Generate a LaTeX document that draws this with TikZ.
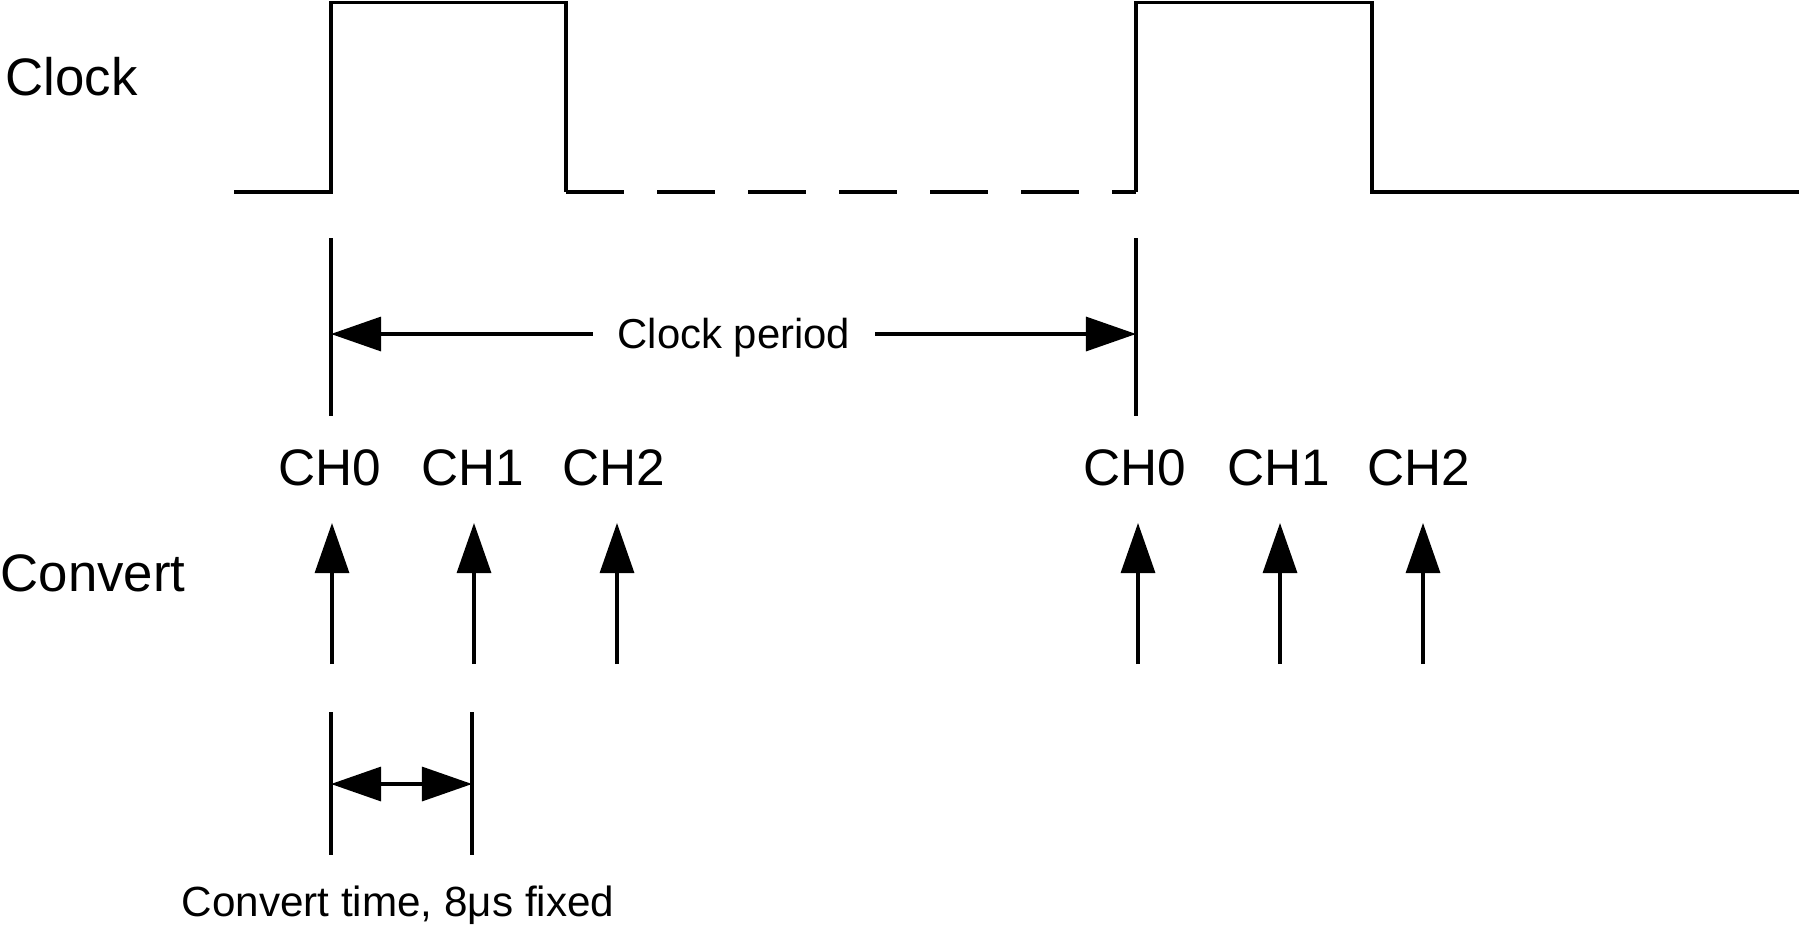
\documentclass[tikz,border=0pt]{standalone}
\usepackage{fontspec}
\setmainfont{Liberation Sans}
\usetikzlibrary{arrows.meta}
\tikzset{
  wave/.style={line width=1.1pt, line join=miter},
  tick/.style={line width=0.9pt},
  arr/.style={line width=0.9pt, -{Triangle[length=5mm,width=3.4mm]}},
  dblarr/.style={line width=0.9pt, {Triangle[length=5mm,width=3.4mm]}-{Triangle[length=5mm,width=3.4mm]}},
  biglbl/.style={inner sep=0pt, anchor=base west, font=\fontsize{15}{17}\selectfont},
  chlbl/.style={inner sep=0pt, anchor=base, font=\fontsize{14.6}{17}\selectfont},
  perlbl/.style={inner ysep=0pt, inner xsep=0.24cm, anchor=base, font=\fontsize{11.9}{14}\selectfont},
  timelbl/.style={inner sep=0pt, anchor=base, font=\fontsize{12}{14}\selectfont}
}
\begin{document}
\begin{tikzpicture}[x=0.01cm, y=-0.01cm]
\useasboundingbox (0,0) rectangle (1801,933);
% clock waveform
\draw[wave] (234,192) -- (331,192) -- (331,2.5) -- (566,2.5) -- (566,192);
\draw[wave, dash pattern=on 0.58cm off 0.33cm] (566,192) -- (1136,192);
\draw[wave] (1136,192) -- (1136,2.5) -- (1372,2.5) -- (1372,192) -- (1799,192);
\node[biglbl] (clk) at (5,95) {Clock};
\node[biglbl] (cnv) at (0,591) {Convert};
% clock period
\coordinate (pt1) at (331,238);
\coordinate (pb1) at (331,416);
\coordinate (pt2) at (1136,238);
\coordinate (pb2) at (1136,416);
\draw[tick] (pt1) -- (pb1);
\draw[tick] (pt2) -- (pb2);
\coordinate (pl) at (331,334);
\coordinate (pr) at (1136,334);
\node[perlbl] (per) at (734,348) {Clock period};
\draw[arr] (per.west |- pl) -- (pl);
\draw[arr] (per.east |- pr) -- (pr);
% channels
\foreach \n/\x/\t in {0/330/CH0,1/473/CH1,2/614/CH2,3/1135/CH0,4/1279/CH1,5/1419/CH2} {
  \node[chlbl] (ch\n) at (\x,485) {\t};
}
\foreach \n/\x in {0/332,1/474,2/617,3/1138,4/1280,5/1423} {
  \coordinate (lo\n) at (\x,664);
  \coordinate (hi\n) at (\x,523);
  \draw[arr] (lo\n) -- (hi\n);
}
% convert time
\coordinate (ct1) at (331,712);
\coordinate (cb1) at (331,855);
\coordinate (ct2) at (472,712);
\coordinate (cb2) at (472,855);
\draw[tick] (ct1) -- (cb1);
\draw[tick] (ct2) -- (cb2);
\coordinate (cm1) at (331,784);
\coordinate (cm2) at (472,784);
\draw[dblarr] (cm1) -- (cm2);
\node[timelbl] (ctime) at (398,916) {Convert time, 8μs fixed};
\end{tikzpicture}
\end{document}
